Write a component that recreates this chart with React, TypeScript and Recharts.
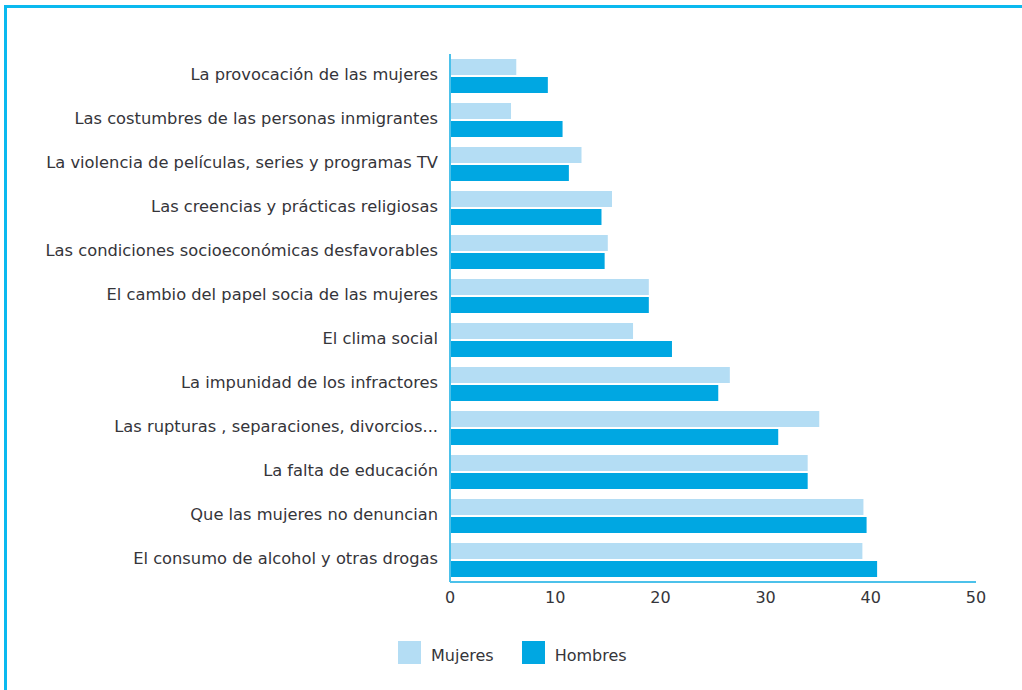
import React from 'react';
import { BarChart, Bar, XAxis, YAxis, Legend } from 'recharts';

const categories = [
  'La provocación de las mujeres',
  'Las costumbres de las personas inmigrantes',
  'La violencia de películas, series y programas TV',
  'Las creencias y prácticas religiosas',
  'Las condiciones socioeconómicas desfavorables',
  'El cambio del papel socia de las mujeres',
  'El clima social',
  'La impunidad de los infractores',
  'Las rupturas , separaciones, divorcios...',
  'La falta de educación',
  'Que las mujeres no denuncian',
  'El consumo de alcohol y otras drogas',
];

const mujeres = [6.3, 5.8, 12.5, 15.4, 15.0, 18.9, 17.4, 26.6, 35.1, 34.0, 39.3, 39.2];
const hombres = [9.3, 10.7, 11.3, 14.4, 14.7, 18.9, 21.1, 25.5, 31.2, 34.0, 39.6, 40.6];

const xTicks = [0, 10, 20, 30, 40, 50];

const seriesNames = ['Mujeres', 'Hombres'];
const colors = ['#b4ddf4', '#00a7e2'];

const data = categories.map((name, i) => ({
  name,
  Mujeres: mujeres[i],
  Hombres: hombres[i],
}));

const FONT = '"DejaVu Sans", sans-serif';
const TEXT = '#35353a';
const AXIS = '#4cc1ea';

const LegendContent = () => (
  <div style={{ display: 'flex', alignItems: 'center', fontFamily: FONT, fontSize: 16, color: TEXT, lineHeight: '23px' }}>
    {seriesNames.map((n, i) => (
      <div key={n} style={{ display: 'flex', alignItems: 'center', marginRight: i === 0 ? 28 : 0 }}>
        <div style={{ width: 23, height: 23, background: colors[i], marginRight: 10 }} />
        <span style={{ position: 'relative', top: 3 }}>{n}</span>
      </div>
    ))}
  </div>
);

export default function App() {
  return (
    <div style={{ position: 'absolute', left: 0, top: 0, width: 1022, height: 690, overflow: 'hidden', background: '#fff' }}>
      <div
        style={{
          position: 'absolute',
          left: 4,
          top: 5,
          width: 1040,
          height: 710,
          border: '3px solid #0ab9ef',
          boxSizing: 'border-box',
        }}
      />
      <div style={{ position: 'absolute', left: 0, top: 0 }}>
        <BarChart
          width={1022}
          height={690}
          data={data}
          layout="vertical"
          margin={{ top: 54, right: 46, left: 0, bottom: 78 }}
          barSize={16}
          barGap={2}
        >
          <XAxis
            type="number"
            domain={[0, 50]}
            ticks={xTicks}
            tickLine={false}
            axisLine={{ stroke: AXIS, strokeWidth: 2 }}
            tick={{ fill: TEXT, fontSize: 16, fontFamily: FONT }}
            tickMargin={4}
            height={30}
          />
          <YAxis
            type="category"
            dataKey="name"
            width={450}
            tickLine={false}
            axisLine={{ stroke: AXIS, strokeWidth: 2 }}
            tick={{ fill: TEXT, fontSize: 16.3, fontFamily: FONT, dy: -2 }}
            tickMargin={6}
            interval={0}
          />
          <Legend
            verticalAlign="middle"
            align="center"
            content={<LegendContent />}
            wrapperStyle={{ position: 'absolute', left: 398, top: 641, width: 'auto' }}
          />
          {seriesNames.map((n, i) => (
            <Bar key={n} dataKey={n} fill={colors[i]} isAnimationActive={false} />
          ))}
        </BarChart>
      </div>
    </div>
  );
}
